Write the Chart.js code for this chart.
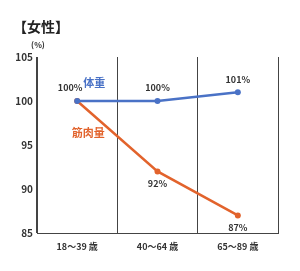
<!DOCTYPE html>
<html>
<head>
<meta charset="utf-8">
<script src="https://cdn.jsdelivr.net/npm/chart.js@4/dist/chart.umd.min.js"></script>
<style>
  html, body { margin: 0; padding: 0; background: #fff; }
  #wrap { position: relative; width: 300px; height: 271px; }
</style>
</head>
<body>
<div id="wrap"><canvas id="myChart" width="300" height="271"></canvas></div>
<script>
var ageGroups = ['18〜39 歳', '40〜64 歳', '65〜89 歳'];
var weightValues = [100, 100, 101];
var muscleValues = [100, 92, 87];
var yTicks = [85, 90, 95, 100, 105];

var FONT = '"Noto Sans CJK JP", "Noto Sans", sans-serif';
var BLUE = '#4a72c6';
var ORANGE = '#e2632c';

// draws title, unit, series names and the % labels
var labelPlugin = {
    id: 'labels',
    afterDraw: function (chart) {
        var c = chart.ctx;
        var x = chart.scales.x;
        var y = chart.scales.y;
        c.save();
        c.textBaseline = 'middle';

        c.fillStyle = '#222';
        c.font = 'bold 14px ' + FONT;
        c.textAlign = 'left';
        c.fillText('【女性】', 13, 27);

        c.font = 'bold 8px ' + FONT;
        c.fillStyle = '#333';
        c.textAlign = 'center';
        c.fillText('(%)', 38, 45);

        c.font = 'bold 9px ' + FONT;
        c.fillStyle = '#333';
        // weight labels above
        weightValues.forEach(function (v, i) {
            var px = x.getPixelForValue(i);
            var py = y.getPixelForValue(v);
            if (i === 0) px -= 7;
            c.fillText(v + '%', px, py - 13);
        });
        // muscle labels below (first shares the weight label)
        muscleValues.forEach(function (v, i) {
            if (i === 0) return;
            var px = x.getPixelForValue(i);
            var py = y.getPixelForValue(v);
            c.fillText(v + '%', px, py + 12);
        });

        c.font = 'bold 11px ' + FONT;
        c.fillStyle = BLUE;
        c.fillText('体重', x.getPixelForValue(0) + 17, y.getPixelForValue(100) - 18);
        c.fillStyle = ORANGE;
        c.fillText('筋肉量', x.getPixelForValue(0) + 11, y.getPixelForValue(96.4));
        c.restore();
    }
};

var ctx = document.getElementById('myChart').getContext('2d');

var myChart = new Chart(ctx, {
    type: 'line',
    data: {
        labels: ageGroups,
        datasets: [{
            label: '体重',
            data: weightValues,
            borderColor: BLUE,
            backgroundColor: BLUE,
            borderWidth: 2.5,
            pointRadius: 3,
            pointBorderWidth: 0
        }, {
            label: '筋肉量',
            data: muscleValues,
            borderColor: ORANGE,
            backgroundColor: ORANGE,
            borderWidth: 2.5,
            pointRadius: 3,
            pointBorderWidth: 0
        }]
    },
    options: {
        responsive: false,
        animation: false,
        layout: { padding: { top: 57, right: 22, bottom: 0, left: 0 } },
        plugins: {
            legend: { display: false },
            tooltip: { enabled: false }
        },
        scales: {
            x: {
                offset: true,
                grid: { offset: true, color: '#444', lineWidth: 1, drawTicks: false },
                border: { color: '#444', width: 1 },
                ticks: { font: { family: FONT, size: 9, weight: 'bold' }, color: '#333', padding: 8 },
                afterFit: function (scale) { scale.height = 38; }
            },
            y: {
                min: 85,
                max: 105,
                afterBuildTicks: function (scale) {
                    scale.ticks = yTicks.map(function (v) { return { value: v }; });
                },
                grid: { display: false, drawTicks: false },
                border: { color: '#444', width: 1 },
                ticks: { font: { family: FONT, size: 10, weight: 'bold' }, color: '#333', padding: 4 },
                afterFit: function (scale) { scale.width = 37; }
            }
        }
    },
    plugins: [labelPlugin]
});
</script>
</body>
</html>
